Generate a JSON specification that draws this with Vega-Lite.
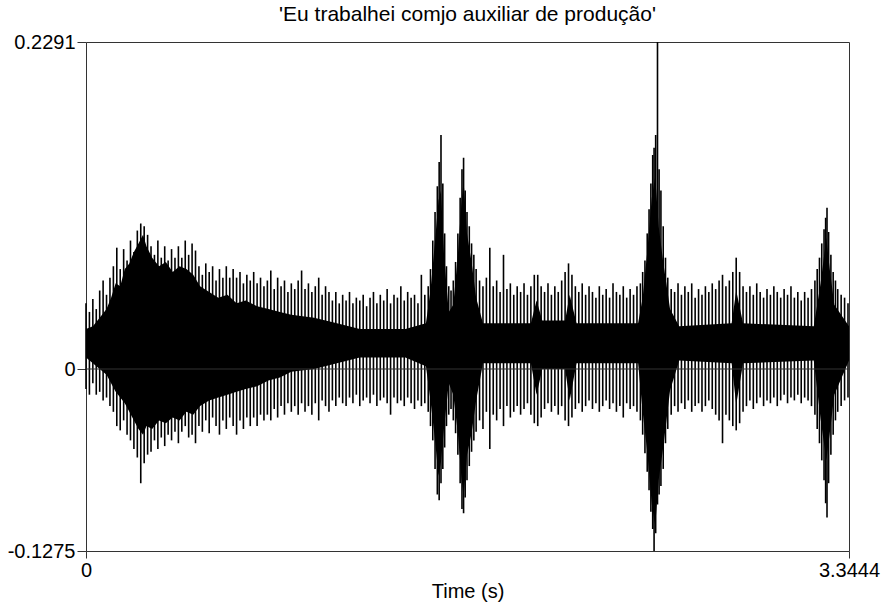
{
"$schema": "https://vega.github.io/schema/vega-lite/v6.json",
"width": 763, "height": 509,
"autosize": {"type": "none"},
"padding": {"left": 86, "top": 42, "right": 38, "bottom": 60},
"background": "white",
"title": {"text": "'Eu trabalhei comjo auxiliar de produção'", "font": "Liberation Sans", "fontSize": 21, "fontWeight": "normal", "color": "#000", "offset": 7, "anchor": "middle"},
"config": {"view": {"stroke": "#333", "strokeWidth": 1}},
"datasets": {
"core": [
{"t":0.000,"hi":0.028,"lo":0.008},{"t":0.030,"hi":0.030,"lo":0.004},{"t":0.060,"hi":0.036,"lo":0.000},{"t":0.090,"hi":0.042,"lo":-0.004},{"t":0.110,"hi":0.050,"lo":-0.010},{"t":0.130,"hi":0.060,"lo":-0.016},{"t":0.150,"hi":0.058,"lo":-0.020},{"t":0.170,"hi":0.070,"lo":-0.024},{"t":0.190,"hi":0.074,"lo":-0.030},{"t":0.210,"hi":0.082,"lo":-0.036},{"t":0.230,"hi":0.088,"lo":-0.042},{"t":0.250,"hi":0.094,"lo":-0.046},{"t":0.265,"hi":0.086,"lo":-0.040},{"t":0.290,"hi":0.078,"lo":-0.042},{"t":0.320,"hi":0.072,"lo":-0.036},{"t":0.350,"hi":0.075,"lo":-0.038},{"t":0.380,"hi":0.068,"lo":-0.034},{"t":0.410,"hi":0.072,"lo":-0.036},{"t":0.440,"hi":0.070,"lo":-0.030},{"t":0.470,"hi":0.066,"lo":-0.032},{"t":0.500,"hi":0.058,"lo":-0.026},{"t":0.540,"hi":0.054,"lo":-0.022},{"t":0.580,"hi":0.050,"lo":-0.020},{"t":0.620,"hi":0.052,"lo":-0.018},{"t":0.660,"hi":0.046,"lo":-0.016},{"t":0.700,"hi":0.048,"lo":-0.014},{"t":0.750,"hi":0.044,"lo":-0.012},{"t":0.800,"hi":0.042,"lo":-0.008},{"t":0.850,"hi":0.040,"lo":-0.006},{"t":0.900,"hi":0.038,"lo":-0.002},{"t":1.000,"hi":0.036,"lo":0.000},{"t":1.100,"hi":0.032,"lo":0.004},{"t":1.200,"hi":0.028,"lo":0.008},{"t":1.300,"hi":0.028,"lo":0.008},{"t":1.400,"hi":0.028,"lo":0.008},{"t":1.490,"hi":0.032,"lo":0.002},{"t":1.510,"hi":0.055,"lo":-0.022},{"t":1.530,"hi":0.090,"lo":-0.050},{"t":1.545,"hi":0.118,"lo":-0.075},{"t":1.556,"hi":0.125,"lo":-0.065},{"t":1.570,"hi":0.078,"lo":-0.040},{"t":1.590,"hi":0.040,"lo":-0.010},{"t":1.610,"hi":0.045,"lo":-0.018},{"t":1.630,"hi":0.080,"lo":-0.045},{"t":1.645,"hi":0.115,"lo":-0.075},{"t":1.655,"hi":0.132,"lo":-0.090},{"t":1.670,"hi":0.095,"lo":-0.060},{"t":1.690,"hi":0.075,"lo":-0.045},{"t":1.710,"hi":0.050,"lo":-0.022},{"t":1.740,"hi":0.032,"lo":0.004},{"t":1.950,"hi":0.032,"lo":0.004},{"t":1.975,"hi":0.048,"lo":-0.018},{"t":2.000,"hi":0.034,"lo":0.000},{"t":2.100,"hi":0.034,"lo":0.000},{"t":2.120,"hi":0.052,"lo":-0.022},{"t":2.150,"hi":0.032,"lo":0.004},{"t":2.420,"hi":0.032,"lo":0.004},{"t":2.440,"hi":0.050,"lo":-0.030},{"t":2.460,"hi":0.082,"lo":-0.058},{"t":2.480,"hi":0.120,"lo":-0.095},{"t":2.495,"hi":0.135,"lo":-0.110},{"t":2.510,"hi":0.100,"lo":-0.078},{"t":2.530,"hi":0.075,"lo":-0.055},{"t":2.560,"hi":0.042,"lo":-0.015},{"t":2.600,"hi":0.030,"lo":0.006},{"t":2.830,"hi":0.032,"lo":0.004},{"t":2.850,"hi":0.055,"lo":-0.025},{"t":2.880,"hi":0.032,"lo":0.004},{"t":3.190,"hi":0.030,"lo":0.006},{"t":3.220,"hi":0.060,"lo":-0.035},{"t":3.245,"hi":0.092,"lo":-0.064},{"t":3.260,"hi":0.070,"lo":-0.045},{"t":3.280,"hi":0.045,"lo":-0.018},{"t":3.3444,"hi":0.030,"lo":0.006}
],
"spikes": [
{"t":0.000,"hi":0.046,"lo":-0.014},{"t":0.015,"hi":0.040,"lo":-0.018},{"t":0.030,"hi":0.049,"lo":-0.010},{"t":0.045,"hi":0.042,"lo":-0.018},{"t":0.060,"hi":0.055,"lo":-0.016},{"t":0.075,"hi":0.062,"lo":-0.022},{"t":0.090,"hi":0.052,"lo":-0.020},{"t":0.105,"hi":0.064,"lo":-0.026},{"t":0.120,"hi":0.072,"lo":-0.030},{"t":0.135,"hi":0.085,"lo":-0.040},{"t":0.150,"hi":0.070,"lo":-0.043},{"t":0.165,"hi":0.084,"lo":-0.036},{"t":0.180,"hi":0.076,"lo":-0.046},{"t":0.195,"hi":0.090,"lo":-0.050},{"t":0.210,"hi":0.082,"lo":-0.056},{"t":0.225,"hi":0.097,"lo":-0.062},{"t":0.240,"hi":0.102,"lo":-0.080},{"t":0.255,"hi":0.100,"lo":-0.066},{"t":0.270,"hi":0.094,"lo":-0.060},{"t":0.285,"hi":0.086,"lo":-0.058},{"t":0.300,"hi":0.080,"lo":-0.050},{"t":0.315,"hi":0.090,"lo":-0.056},{"t":0.330,"hi":0.078,"lo":-0.048},{"t":0.345,"hi":0.086,"lo":-0.054},{"t":0.360,"hi":0.076,"lo":-0.046},{"t":0.375,"hi":0.084,"lo":-0.050},{"t":0.390,"hi":0.078,"lo":-0.044},{"t":0.405,"hi":0.086,"lo":-0.052},{"t":0.420,"hi":0.078,"lo":-0.044},{"t":0.435,"hi":0.090,"lo":-0.040},{"t":0.450,"hi":0.080,"lo":-0.048},{"t":0.465,"hi":0.088,"lo":-0.046},{"t":0.480,"hi":0.083,"lo":-0.052},{"t":0.495,"hi":0.072,"lo":-0.040},{"t":0.510,"hi":0.066,"lo":-0.044},{"t":0.525,"hi":0.074,"lo":-0.036},{"t":0.540,"hi":0.068,"lo":-0.045},{"t":0.555,"hi":0.072,"lo":-0.034},{"t":0.570,"hi":0.062,"lo":-0.040},{"t":0.585,"hi":0.070,"lo":-0.046},{"t":0.600,"hi":0.064,"lo":-0.036},{"t":0.615,"hi":0.072,"lo":-0.042},{"t":0.630,"hi":0.064,"lo":-0.034},{"t":0.645,"hi":0.070,"lo":-0.040},{"t":0.660,"hi":0.064,"lo":-0.046},{"t":0.675,"hi":0.068,"lo":-0.036},{"t":0.690,"hi":0.060,"lo":-0.042},{"t":0.705,"hi":0.066,"lo":-0.034},{"t":0.720,"hi":0.062,"lo":-0.040},{"t":0.735,"hi":0.068,"lo":-0.034},{"t":0.750,"hi":0.060,"lo":-0.040},{"t":0.765,"hi":0.064,"lo":-0.032},{"t":0.780,"hi":0.058,"lo":-0.036},{"t":0.795,"hi":0.062,"lo":-0.032},{"t":0.810,"hi":0.069,"lo":-0.036},{"t":0.825,"hi":0.056,"lo":-0.028},{"t":0.840,"hi":0.064,"lo":-0.034},{"t":0.855,"hi":0.058,"lo":-0.026},{"t":0.870,"hi":0.062,"lo":-0.032},{"t":0.885,"hi":0.054,"lo":-0.024},{"t":0.900,"hi":0.060,"lo":-0.030},{"t":0.915,"hi":0.056,"lo":-0.026},{"t":0.930,"hi":0.062,"lo":-0.032},{"t":0.945,"hi":0.069,"lo":-0.024},{"t":0.960,"hi":0.056,"lo":-0.030},{"t":0.975,"hi":0.060,"lo":-0.026},{"t":0.990,"hi":0.054,"lo":-0.032},{"t":1.005,"hi":0.058,"lo":-0.024},{"t":1.020,"hi":0.064,"lo":-0.036},{"t":1.035,"hi":0.052,"lo":-0.022},{"t":1.050,"hi":0.058,"lo":-0.026},{"t":1.065,"hi":0.054,"lo":-0.030},{"t":1.080,"hi":0.048,"lo":-0.022},{"t":1.095,"hi":0.054,"lo":-0.026},{"t":1.110,"hi":0.046,"lo":-0.020},{"t":1.125,"hi":0.052,"lo":-0.024},{"t":1.140,"hi":0.048,"lo":-0.026},{"t":1.155,"hi":0.054,"lo":-0.020},{"t":1.170,"hi":0.046,"lo":-0.024},{"t":1.185,"hi":0.050,"lo":-0.018},{"t":1.200,"hi":0.048,"lo":-0.026},{"t":1.215,"hi":0.052,"lo":-0.022},{"t":1.230,"hi":0.044,"lo":-0.020},{"t":1.245,"hi":0.050,"lo":-0.024},{"t":1.260,"hi":0.054,"lo":-0.018},{"t":1.275,"hi":0.046,"lo":-0.026},{"t":1.290,"hi":0.052,"lo":-0.022},{"t":1.305,"hi":0.048,"lo":-0.020},{"t":1.320,"hi":0.056,"lo":-0.024},{"t":1.335,"hi":0.046,"lo":-0.032},{"t":1.350,"hi":0.052,"lo":-0.020},{"t":1.365,"hi":0.050,"lo":-0.024},{"t":1.380,"hi":0.058,"lo":-0.022},{"t":1.395,"hi":0.048,"lo":-0.026},{"t":1.410,"hi":0.054,"lo":-0.020},{"t":1.425,"hi":0.050,"lo":-0.024},{"t":1.440,"hi":0.052,"lo":-0.028},{"t":1.455,"hi":0.046,"lo":-0.022},{"t":1.470,"hi":0.066,"lo":-0.026},{"t":1.485,"hi":0.052,"lo":-0.024},{"t":1.500,"hi":0.058,"lo":-0.030},{"t":1.510,"hi":0.070,"lo":-0.040},{"t":1.520,"hi":0.090,"lo":-0.050},{"t":1.530,"hi":0.110,"lo":-0.070},{"t":1.540,"hi":0.128,"lo":-0.088},{"t":1.548,"hi":0.145,"lo":-0.092},{"t":1.556,"hi":0.164,"lo":-0.080},{"t":1.564,"hi":0.130,"lo":-0.070},{"t":1.572,"hi":0.095,"lo":-0.055},{"t":1.580,"hi":0.072,"lo":-0.040},{"t":1.590,"hi":0.058,"lo":-0.032},{"t":1.600,"hi":0.055,"lo":-0.028},{"t":1.610,"hi":0.062,"lo":-0.036},{"t":1.620,"hi":0.075,"lo":-0.045},{"t":1.630,"hi":0.095,"lo":-0.060},{"t":1.640,"hi":0.120,"lo":-0.080},{"t":1.648,"hi":0.140,"lo":-0.098},{"t":1.655,"hi":0.148,"lo":-0.101},{"t":1.662,"hi":0.125,"lo":-0.090},{"t":1.670,"hi":0.110,"lo":-0.078},{"t":1.680,"hi":0.100,"lo":-0.068},{"t":1.690,"hi":0.088,"lo":-0.058},{"t":1.700,"hi":0.080,"lo":-0.050},{"t":1.710,"hi":0.070,"lo":-0.044},{"t":1.725,"hi":0.062,"lo":-0.036},{"t":1.740,"hi":0.058,"lo":-0.042},{"t":1.755,"hi":0.064,"lo":-0.030},{"t":1.770,"hi":0.085,"lo":-0.056},{"t":1.785,"hi":0.058,"lo":-0.032},{"t":1.800,"hi":0.062,"lo":-0.036},{"t":1.815,"hi":0.054,"lo":-0.028},{"t":1.830,"hi":0.080,"lo":-0.040},{"t":1.845,"hi":0.056,"lo":-0.026},{"t":1.860,"hi":0.060,"lo":-0.034},{"t":1.875,"hi":0.052,"lo":-0.030},{"t":1.890,"hi":0.058,"lo":-0.026},{"t":1.905,"hi":0.054,"lo":-0.032},{"t":1.920,"hi":0.060,"lo":-0.028},{"t":1.935,"hi":0.052,"lo":-0.024},{"t":1.950,"hi":0.058,"lo":-0.032},{"t":1.965,"hi":0.066,"lo":-0.038},{"t":1.980,"hi":0.066,"lo":-0.040},{"t":1.995,"hi":0.058,"lo":-0.034},{"t":2.010,"hi":0.054,"lo":-0.028},{"t":2.025,"hi":0.060,"lo":-0.024},{"t":2.040,"hi":0.052,"lo":-0.030},{"t":2.055,"hi":0.058,"lo":-0.026},{"t":2.070,"hi":0.054,"lo":-0.032},{"t":2.085,"hi":0.062,"lo":-0.026},{"t":2.100,"hi":0.068,"lo":-0.036},{"t":2.115,"hi":0.074,"lo":-0.040},{"t":2.130,"hi":0.066,"lo":-0.034},{"t":2.145,"hi":0.058,"lo":-0.028},{"t":2.160,"hi":0.054,"lo":-0.024},{"t":2.175,"hi":0.060,"lo":-0.030},{"t":2.190,"hi":0.052,"lo":-0.026},{"t":2.205,"hi":0.058,"lo":-0.022},{"t":2.220,"hi":0.054,"lo":-0.028},{"t":2.235,"hi":0.050,"lo":-0.024},{"t":2.250,"hi":0.058,"lo":-0.030},{"t":2.265,"hi":0.052,"lo":-0.026},{"t":2.280,"hi":0.056,"lo":-0.022},{"t":2.295,"hi":0.050,"lo":-0.028},{"t":2.310,"hi":0.060,"lo":-0.024},{"t":2.325,"hi":0.054,"lo":-0.030},{"t":2.340,"hi":0.052,"lo":-0.026},{"t":2.355,"hi":0.058,"lo":-0.034},{"t":2.370,"hi":0.050,"lo":-0.024},{"t":2.385,"hi":0.056,"lo":-0.028},{"t":2.400,"hi":0.052,"lo":-0.026},{"t":2.415,"hi":0.058,"lo":-0.030},{"t":2.430,"hi":0.060,"lo":-0.036},{"t":2.440,"hi":0.068,"lo":-0.046},{"t":2.450,"hi":0.076,"lo":-0.059},{"t":2.460,"hi":0.095,"lo":-0.072},{"t":2.468,"hi":0.112,"lo":-0.085},{"t":2.476,"hi":0.130,"lo":-0.100},{"t":2.484,"hi":0.150,"lo":-0.112},{"t":2.490,"hi":0.155,"lo":-0.1275},{"t":2.497,"hi":0.164,"lo":-0.115},{"t":2.505,"hi":0.2291,"lo":-0.095},{"t":2.512,"hi":0.140,"lo":-0.088},{"t":2.520,"hi":0.125,"lo":-0.082},{"t":2.530,"hi":0.100,"lo":-0.070},{"t":2.540,"hi":0.078,"lo":-0.052},{"t":2.550,"hi":0.064,"lo":-0.042},{"t":2.565,"hi":0.056,"lo":-0.032},{"t":2.580,"hi":0.054,"lo":-0.026},{"t":2.595,"hi":0.060,"lo":-0.030},{"t":2.610,"hi":0.052,"lo":-0.024},{"t":2.625,"hi":0.058,"lo":-0.028},{"t":2.640,"hi":0.054,"lo":-0.022},{"t":2.655,"hi":0.060,"lo":-0.030},{"t":2.670,"hi":0.050,"lo":-0.026},{"t":2.685,"hi":0.056,"lo":-0.024},{"t":2.700,"hi":0.052,"lo":-0.030},{"t":2.715,"hi":0.058,"lo":-0.026},{"t":2.730,"hi":0.054,"lo":-0.022},{"t":2.745,"hi":0.060,"lo":-0.028},{"t":2.760,"hi":0.056,"lo":-0.032},{"t":2.775,"hi":0.062,"lo":-0.036},{"t":2.790,"hi":0.066,"lo":-0.052},{"t":2.805,"hi":0.058,"lo":-0.032},{"t":2.820,"hi":0.062,"lo":-0.036},{"t":2.835,"hi":0.068,"lo":-0.040},{"t":2.850,"hi":0.078,"lo":-0.043},{"t":2.865,"hi":0.068,"lo":-0.038},{"t":2.880,"hi":0.058,"lo":-0.030},{"t":2.895,"hi":0.054,"lo":-0.026},{"t":2.910,"hi":0.058,"lo":-0.022},{"t":2.925,"hi":0.052,"lo":-0.028},{"t":2.940,"hi":0.060,"lo":-0.024},{"t":2.955,"hi":0.054,"lo":-0.020},{"t":2.970,"hi":0.050,"lo":-0.026},{"t":2.985,"hi":0.056,"lo":-0.022},{"t":3.000,"hi":0.052,"lo":-0.024},{"t":3.015,"hi":0.058,"lo":-0.020},{"t":3.030,"hi":0.054,"lo":-0.026},{"t":3.045,"hi":0.050,"lo":-0.022},{"t":3.060,"hi":0.056,"lo":-0.018},{"t":3.075,"hi":0.052,"lo":-0.024},{"t":3.090,"hi":0.058,"lo":-0.020},{"t":3.105,"hi":0.050,"lo":-0.022},{"t":3.120,"hi":0.054,"lo":-0.018},{"t":3.135,"hi":0.048,"lo":-0.024},{"t":3.150,"hi":0.054,"lo":-0.020},{"t":3.165,"hi":0.050,"lo":-0.022},{"t":3.180,"hi":0.056,"lo":-0.026},{"t":3.195,"hi":0.062,"lo":-0.032},{"t":3.205,"hi":0.070,"lo":-0.042},{"t":3.215,"hi":0.078,"lo":-0.052},{"t":3.225,"hi":0.088,"lo":-0.064},{"t":3.235,"hi":0.098,"lo":-0.078},{"t":3.242,"hi":0.106,"lo":-0.094},{"t":3.248,"hi":0.113,"lo":-0.104},{"t":3.255,"hi":0.096,"lo":-0.080},{"t":3.265,"hi":0.080,"lo":-0.060},{"t":3.275,"hi":0.068,"lo":-0.046},{"t":3.285,"hi":0.062,"lo":-0.036},{"t":3.295,"hi":0.056,"lo":-0.030},{"t":3.310,"hi":0.052,"lo":-0.026},{"t":3.325,"hi":0.050,"lo":-0.022},{"t":3.340,"hi":0.046,"lo":-0.020}
],
"zero": [{"hi": 0}]
},
"layer": [
{
"data": {"name": "core"},
"mark": {"type": "area", "color": "#000", "opacity": 1},
"encoding": {
"x": {"field": "t", "type": "quantitative", "scale": {"domain": [0, 3.3444], "nice": false, "zero": false},
"axis": {"values": [0, 3.3444], "labelExpr": "datum.value > 0 ? '3.3444' : '0'", "title": "Time (s)", "grid": false, "domain": false, "ticks": true, "tickSize": 7, "tickColor": "#333", "labelFont": "Liberation Sans", "labelFontSize": 20, "labelColor": "#000", "labelFlush": false, "labelOverlap": false, "labelPadding": 2, "titleFont": "Liberation Sans", "titleFontSize": 20, "titleFontWeight": "normal", "titleColor": "#000", "titlePadding": 1}},
"y": {"field": "hi", "type": "quantitative", "scale": {"domain": [-0.1275, 0.2291], "nice": false, "zero": false},
"axis": {"values": [-0.1275, 0, 0.2291], "labelExpr": "datum.value < 0 ? '-0.1275' : (datum.value > 0 ? '0.2291' : '0')", "title": null, "grid": false, "domain": false, "ticks": true, "tickSize": 9, "tickColor": "#333", "labelFont": "Liberation Sans", "labelFontSize": 20, "labelColor": "#000", "labelFlush": false, "labelOverlap": false, "labelPadding": 2}},
"y2": {"field": "lo"}
}
},
{
"data": {"name": "spikes"},
"mark": {"type": "rule", "color": "#000", "strokeWidth": 1.6},
"encoding": {
"x": {"field": "t", "type": "quantitative"},
"y": {"field": "hi", "type": "quantitative"},
"y2": {"field": "lo"}
}
},
{
"data": {"name": "zero"},
"mark": {"type": "rule", "color": "#333", "strokeWidth": 1},
"encoding": {
"y": {"field": "hi", "type": "quantitative"}
}
}
]
}
